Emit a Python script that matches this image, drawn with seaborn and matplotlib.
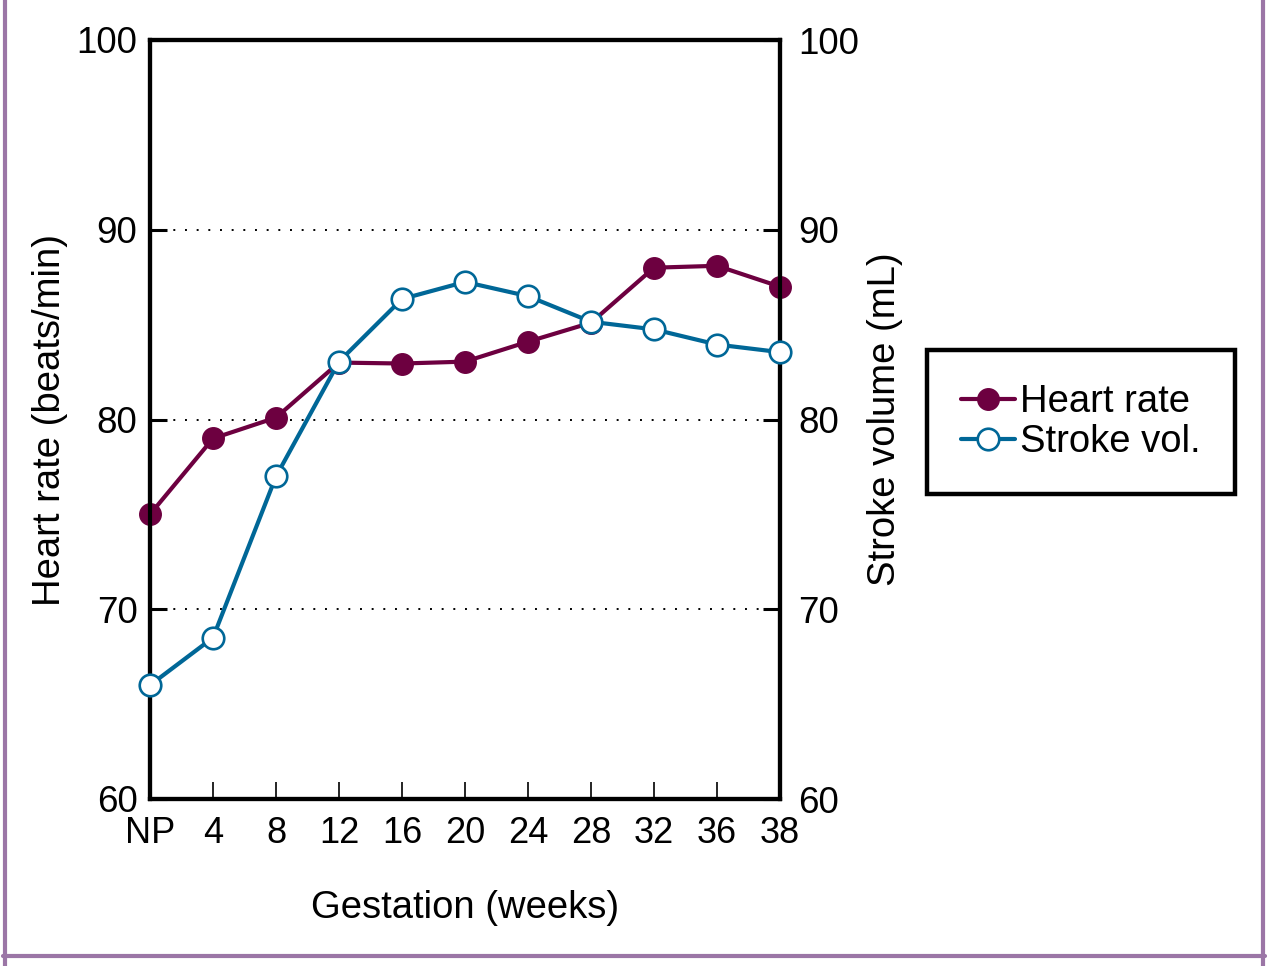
import matplotlib
matplotlib.use("Agg")
import matplotlib.pyplot as plt
from matplotlib.lines import Line2D
import seaborn as sns
import pandas as pd

weeks = ["NP", "4", "8", "12", "16", "20", "24", "28", "32", "36", "38"]
heart_rate = [75.0, 79.0, 80.1, 83.0, 82.95, 83.05, 84.1, 85.1, 88.0, 88.1, 87.0]
stroke_vol = [66.0, 68.5, 77.0, 83.05, 86.35, 87.25, 86.5, 85.15, 84.75, 83.95, 83.55]
y_ticks = [60, 70, 80, 90, 100]

HR_COLOR = "#6d0040"
SV_COLOR = "#006797"
LW = 3.0
MS = 15.5

sns.set_theme(style="white")
plt.rcParams['font.family'] = ['Liberation Sans', 'DejaVu Sans']
plt.rcParams['text.color'] = 'black'
plt.rcParams['axes.labelcolor'] = 'black'
plt.rcParams['xtick.color'] = 'black'
plt.rcParams['ytick.color'] = 'black'

df = pd.DataFrame({"week": weeks, "hr": heart_rate, "sv": stroke_vol})
df["pos"] = range(len(weeks))

fig = plt.figure(figsize=(12.72, 9.66), dpi=100)
ax = fig.add_axes([150/1272, 1-799/966, 630/1272, 759/966])
ax2 = ax.twinx()

sns.lineplot(data=df, x="pos", y="hr", ax=ax, color=HR_COLOR, linewidth=LW,
             marker="o", markersize=MS, markerfacecolor=HR_COLOR,
             markeredgecolor=HR_COLOR, markeredgewidth=1, clip_on=False, zorder=5)
sns.lineplot(data=df, x="pos", y="sv", ax=ax2, color=SV_COLOR, linewidth=LW,
             marker="o", markersize=MS, markerfacecolor="white",
             markeredgecolor=SV_COLOR, markeredgewidth=1.9, clip_on=False, zorder=5)

for a in (ax, ax2):
    a.set_ylim(60, 100)
    a.set_yticks(y_ticks)
    a.set_xlim(0, len(weeks) - 1)
    for s in a.spines.values():
        s.set_color("black")
        s.set_linewidth(3)
    a.set_xlabel("")
    a.set_ylabel("")

ax.set_xticks(df["pos"])
ax.set_xticklabels(weeks)
ax.tick_params(axis="x", direction="in", length=12, width=1.2, color="black",
               labelsize=26, pad=12, bottom=True, labelcolor="black")
ax.tick_params(axis="y", direction="in", length=12, width=2.2, color="black",
               labelsize=26.5, pad=9, left=True, labelcolor="black")
ax2.tick_params(axis="y", direction="in", length=12, width=2.2, color="black",
                labelsize=26.5, pad=13, right=True, labelcolor="black")

for v in y_ticks[1:-1]:
    ax.axhline(v, color="black", lw=1.4, ls=(0, (1, 5)), zorder=1)

ax.set_xlabel("Gestation (weeks)", fontsize=27.5, labelpad=28, color="black")
ax.set_ylabel("Heart rate (beats/min)", fontsize=27.5, labelpad=6, color="black")
ax2.set_ylabel("Stroke volume (mL)", fontsize=27.5, labelpad=6, color="black")

handles = [
    Line2D([], [], color=HR_COLOR, lw=LW, marker="o", markersize=MS,
           markerfacecolor=HR_COLOR, markeredgecolor=HR_COLOR),
    Line2D([], [], color=SV_COLOR, lw=LW, marker="o", markersize=MS,
           markerfacecolor="white", markeredgecolor=SV_COLOR, markeredgewidth=1.9),
]
leg = fig.legend(handles, ["Heart rate", "Stroke vol."], loc="center",
                 bbox_to_anchor=(1081/1272, 1-422/966), fontsize=27.5,
                 frameon=True, fancybox=False, edgecolor="black", framealpha=1,
                 handlelength=1.4, handletextpad=0.15, borderpad=0.9,
                 labelspacing=0.1, borderaxespad=0)
leg.get_frame().set_linewidth(3.2)
for t in leg.get_texts():
    t.set_color("black")

frame_color = "#9b76a6"
fig.add_artist(Line2D([5/1272, 5/1272], [0.0, 1.0], color=frame_color, lw=3, transform=fig.transFigure))
fig.add_artist(Line2D([1263/1272, 1263/1272], [0.0, 1.0], color=frame_color, lw=3, transform=fig.transFigure))
fig.add_artist(Line2D([3/1272, 1265/1272], [1-956/966, 1-956/966], color=frame_color, lw=3, transform=fig.transFigure))

fig.savefig("out.png", dpi=100, facecolor="white")
